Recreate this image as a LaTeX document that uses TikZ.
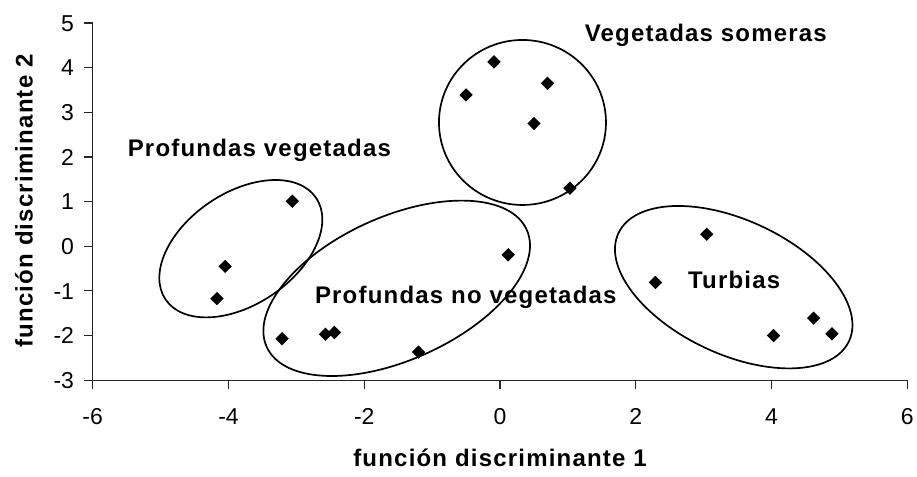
\documentclass[tikz,border=0pt]{standalone}
\usepackage{fontspec}
\setmainfont{Liberation Sans}
\newfontfamily\lblfont[LetterSpace=5]{Liberation Sans}
\usetikzlibrary{shapes.geometric}
\tikzset{
  pt/.style={diamond, fill=black, draw=none, inner sep=0pt, minimum width=13.5pt, minimum height=13.5pt},
  ell/.style={draw=black, line width=1.7pt},
  axisline/.style={draw=black!85, line width=1.1pt},
  ticklbl/.style={font=\fontsize{23}{27}\selectfont, inner sep=0pt},
  grplbl/.style={font=\lblfont\bfseries\fontsize{24}{28}\selectfont, inner sep=0pt, anchor=base},
}
\begin{document}
\begin{tikzpicture}[x=67.88pt, y=44.65pt]
\useasboundingbox[fill=white] (-7.366,-5.167) rectangle (6.143,5.516);

% axes
\coordinate (o) at (-6,-3);
\coordinate (xe) at (6,-3);
\coordinate (ye) at (-6,5);
\draw[axisline] (ye) -- (o) -- (xe);
\foreach \yy in {-3,...,5} {
  \draw[axisline] (-6,\yy) -- ++(-8.7pt,0);
  \node[ticklbl, anchor=base east] (yl\yy) at ([xshift=-18.5pt,yshift=-8.2pt]-6,\yy) {\yy};
}
\foreach \xx in {-6,-4,...,6} {
  \draw[axisline] (\xx,-3) -- ++(0,-9pt);
  \node[ticklbl, anchor=base] (xl\xx) at (\xx,-3.991) {\xx};
}

% axis titles
\node[grplbl] (xt) at (0,-4.943) {función discriminante 1};
\node[grplbl, rotate=90] (yt) at (-6.887,1.015) {función discriminante 2};

% ellipses
\draw[ell, shift={(-3.818,-0.054)}, rotate=34] (0,0) ellipse [x radius=90.8pt, y radius=55.8pt];
\draw[ell, shift={(-1.522,-0.941)}, rotate=24.25] (0,0) ellipse [x radius=142.6pt, y radius=71.6pt];
\draw[ell, shift={(3.443,-0.916)}, rotate=-25.1] (0,0) ellipse [x radius=127.3pt, y radius=67pt];
\draw[ell] (0.331,2.773) ellipse [x radius=83.5pt, y radius=82.5pt];

% points: profundas vegetadas
\node[pt] (pv1) at (-3.06,1.01) {};
\node[pt] (pv2) at (-4.05,-0.45) {};
\node[pt] (pv3) at (-4.17,-1.17) {};
% profundas no vegetadas
\node[pt] (pn1) at (-3.21,-2.07) {};
\node[pt] (pn2) at (-2.57,-1.97) {};
\node[pt] (pn3) at (-2.44,-1.93) {};
\node[pt] (pn4) at (-1.20,-2.37) {};
\node[pt] (pn5) at (0.12,-0.19) {};
% turbias
\node[pt] (tu1) at (3.045,0.269) {};
\node[pt] (tu2) at (2.29,-0.81) {};
\node[pt] (tu3) at (4.03,-2.00) {};
\node[pt] (tu4) at (4.62,-1.61) {};
\node[pt] (tu5) at (4.89,-1.96) {};
% vegetadas someras
\node[pt] (vs1) at (-0.088,4.13) {};
\node[pt] (vs2) at (-0.50,3.39) {};
\node[pt] (vs3) at (0.70,3.65) {};
\node[pt] (vs4) at (0.50,2.75) {};
\node[pt] (vs5) at (1.03,1.30) {};

% group labels
\node[grplbl] (lpv) at (-3.545,2.007) {Profundas vegetadas};
\node[grplbl] (lvs) at (3.032,4.582) {Vegetadas someras};
\node[grplbl] (lpn) at (-0.504,-1.277) {Profundas no vegetadas};
\node[grplbl] (ltu) at (3.450,-0.941) {Turbias};
\end{tikzpicture}
\end{document}
